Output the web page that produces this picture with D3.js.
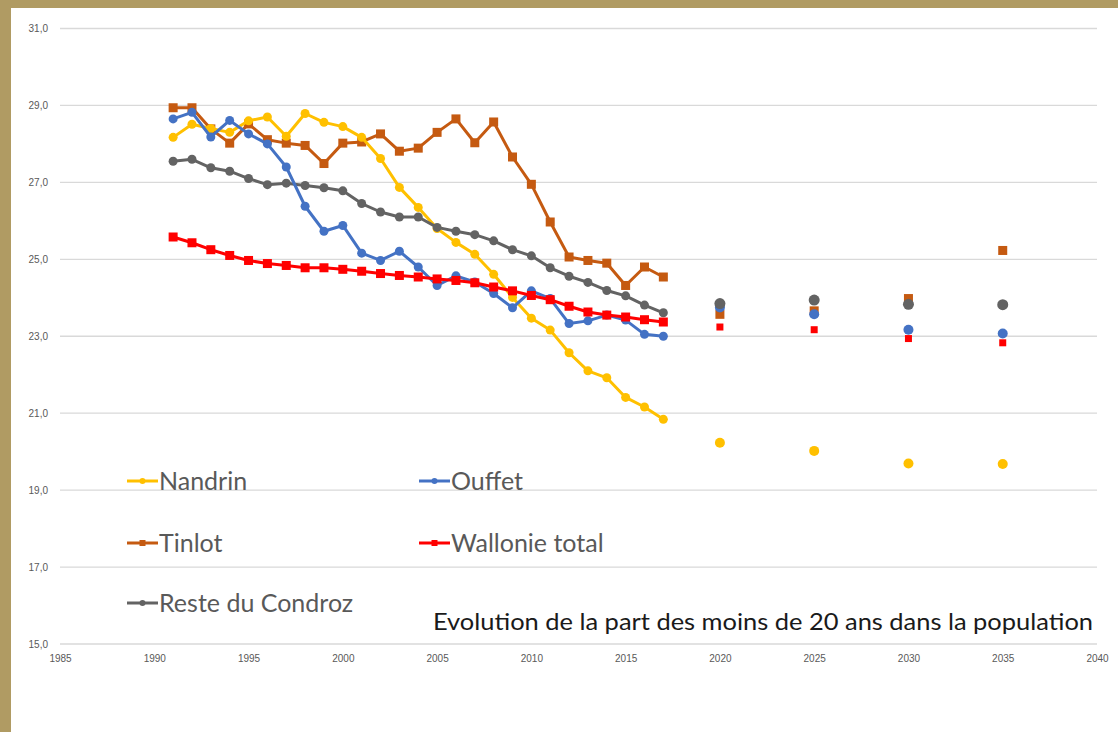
<!DOCTYPE html>
<html>
<head>
<meta charset="utf-8">
<script src="https://cdn.jsdelivr.net/npm/d3@7"></script>
<style>
  html, body { margin: 0; padding: 0; background: #fff; }
  svg { display: block; }
</style>
</head>
<body>
<svg id="chart" width="1118" height="732"></svg>
<script>
// ---- data ----
const years = d3.range(1991, 2018);
const projYears = [2020, 2025, 2030, 2035];

const nandrin = [28.17,28.51,28.40,28.30,28.60,28.70,28.20,28.79,28.56,28.45,28.17,27.62,26.87,26.35,25.80,25.44,25.13,24.61,24.01,23.47,23.16,22.57,22.10,21.92,21.41,21.16,20.84];
const ouffet = [28.65,28.82,28.18,28.61,28.26,28.00,27.40,26.38,25.73,25.88,25.16,24.97,25.21,24.80,24.32,24.57,24.41,24.11,23.74,24.18,23.98,23.33,23.40,23.55,23.42,23.05,23.00];
const tinlot = [28.94,28.94,28.39,28.02,28.52,28.11,28.02,27.96,27.49,28.02,28.05,28.26,27.81,27.89,28.30,28.65,28.03,28.57,27.66,26.95,25.97,25.06,24.97,24.90,24.32,24.80,24.54];
const wallonie = [25.58,25.43,25.25,25.10,24.97,24.89,24.84,24.78,24.78,24.74,24.69,24.63,24.58,24.54,24.49,24.45,24.39,24.28,24.18,24.06,23.95,23.78,23.63,23.55,23.50,23.43,23.37];
const reste = [27.55,27.60,27.38,27.29,27.10,26.94,26.98,26.92,26.86,26.78,26.45,26.23,26.10,26.10,25.83,25.73,25.64,25.48,25.25,25.09,24.78,24.56,24.40,24.19,24.05,23.81,23.61];

const nandrinProj = [20.23,20.02,19.69,19.68];
const ouffetProj = [23.75,23.57,23.17,23.07];
const tinlotProj = [23.57,23.66,23.98,25.23];
const wallonieProj = [23.24,23.17,22.94,22.83];
const resteProj = [23.85,23.94,23.83,23.82];

const yTicks = [15,17,19,21,23,25,27,29,31];
const xTicks = [1985,1990,1995,2000,2005,2010,2015,2020,2025,2030,2035,2040];
const title = "Evolution de la part des moins de 20 ans dans la population";

const seriesNames = ["Nandrin","Ouffet","Tinlot","Wallonie total","Reste du Condroz"];

// ---- styling/config ----
const series = [
  {name: seriesNames[0], vals: nandrin, proj: nandrinProj, color: "#FFC000", shape: "circle", projSize: 5},
  {name: seriesNames[1], vals: ouffet, proj: ouffetProj, color: "#4472C4", shape: "circle", projSize: 5},
  {name: seriesNames[2], vals: tinlot, proj: tinlotProj, color: "#C55A11", shape: "square", projSize: 9},
  {name: seriesNames[3], vals: wallonie, proj: wallonieProj, color: "#FF0000", shape: "square", projSize: 7},
  {name: seriesNames[4], vals: reste, proj: resteProj, color: "#636363", shape: "circle", projSize: 5.5}
];
const drawOrder = [2, 0, 4, 1, 3];

const svg = d3.select("#chart");
svg.append("rect").attr("x",0).attr("y",0).attr("width",1118).attr("height",732).attr("fill","#fff");
svg.append("rect").attr("x",0).attr("y",0).attr("width",1118).attr("height",8).attr("fill","#B09B63");
svg.append("rect").attr("x",0).attr("y",0).attr("width",11).attr("height",732).attr("fill","#B09B63");

const x = d3.scaleLinear().domain([1985, 2040]).range([60, 1097]);
const y = d3.scaleLinear().domain([15, 31]).range([644, 28.5]);

svg.append("g").selectAll("line").data(yTicks).join("line")
  .attr("x1", x(1985)).attr("x2", x(2040))
  .attr("y1", d => y(d)).attr("y2", d => y(d))
  .attr("stroke", "#d9d9d9").attr("stroke-width", 1.3);

const fmt = d => d3.format(".1f")(d).replace(".", ",");
const yAxis = svg.append("g").attr("transform", "translate(48,0)")
  .call(d3.axisLeft(y).tickValues(yTicks).tickFormat(fmt).tickSize(0).tickPadding(0));
yAxis.select(".domain").remove();
yAxis.selectAll("text").attr("font-family","Liberation Sans, Arial, sans-serif").attr("font-size", 10).attr("fill","#595959").attr("dy","0.32em");

const xAxis = svg.append("g").attr("transform", "translate(0,655)")
  .call(d3.axisBottom(x).tickValues(xTicks).tickFormat(d3.format("d")).tickSize(0).tickPadding(0));
xAxis.select(".domain").remove();
xAxis.selectAll("text").attr("font-family","Liberation Sans, Arial, sans-serif").attr("font-size", 10).attr("fill","#595959");

const line = d3.line().x((d,i) => x(years[i])).y(d => y(d));

function marker(g, shape, cx, cy, size, color) {
  if (shape === "circle") {
    g.append("circle").attr("cx", cx).attr("cy", cy).attr("r", size).attr("fill", color);
  } else {
    g.append("rect").attr("x", cx - size/2).attr("y", cy - size/2).attr("width", size).attr("height", size).attr("fill", color);
  }
}

const plot = svg.append("g");
drawOrder.forEach(k => {
  const s = series[k];
  const g = plot.append("g");
  g.append("path").datum(s.vals).attr("d", line).attr("fill","none")
    .attr("stroke", s.color).attr("stroke-width", 3).attr("stroke-linejoin","round");
  s.vals.forEach((v,i) => marker(g, s.shape, x(years[i]), y(v), s.shape === "circle" ? 4.5 : 9, s.color));
});
[2, 0, 1, 4, 3].forEach(k => {
  const s = series[k];
  const g = plot.append("g");
  s.proj.forEach((v,i) => marker(g, s.shape, x(projYears[i]), y(v), s.projSize, s.color));
});

// legend
const legendPos = [
  {lx: 127, ly: 481}, {lx: 419, ly: 481},
  {lx: 127, ly: 543}, {lx: 419, ly: 543},
  {lx: 127, ly: 603}
];
const lg = svg.append("g");
series.forEach((s, i) => {
  const p = legendPos[i];
  const g = lg.append("g");
  g.append("line").attr("x1", p.lx).attr("x2", p.lx + 31).attr("y1", p.ly).attr("y2", p.ly)
    .attr("stroke", s.color).attr("stroke-width", 3);
  marker(g, s.shape, p.lx + 15.5, p.ly, s.shape === "circle" ? 3 : 6, s.color);
  g.append("text").attr("x", p.lx + 32).attr("y", p.ly).attr("dy", "0.35em")
    .attr("font-family", "Lato, 'Open Sans', sans-serif").attr("font-size", 25).attr("fill", "#595959")
    .text(s.name);
});

// title
svg.append("text").attr("x", 433).attr("y", 630)
  .attr("font-family", "Lato, 'Open Sans', sans-serif").attr("font-size", 23).attr("fill", "#1a1a1a")
  .attr("textLength", 660).attr("lengthAdjust", "spacingAndGlyphs")
  .text(title);
</script>
</body>
</html>
